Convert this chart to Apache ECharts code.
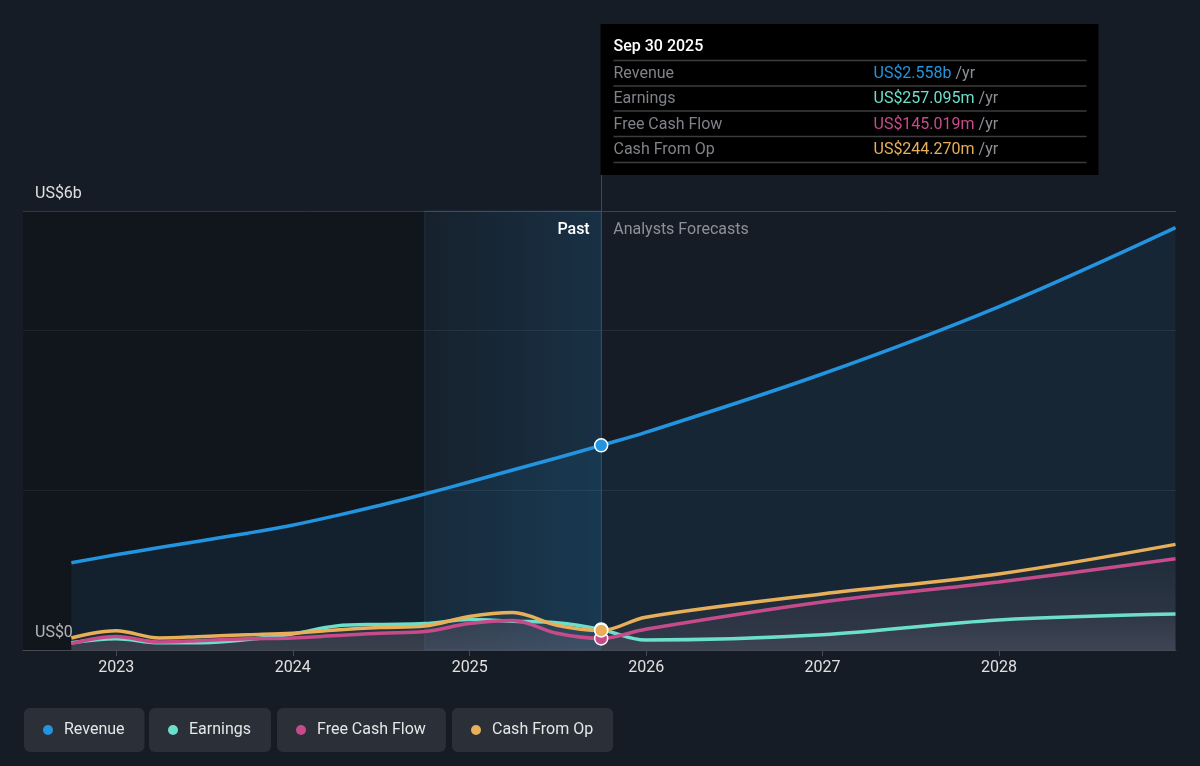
<!DOCTYPE html>
<html>
<head>
<meta charset="utf-8">
<script src="https://cdn.jsdelivr.net/npm/echarts@6/dist/echarts.min.js"></script>
<style>
    html, body { margin: 0; padding: 0; background: #161c25; }
    #chart { width: 1200px; height: 766px; }
</style>
</head>
<body>
<div id="chart"></div>
<script>
// quarterly history up to Sep 2025, then analyst forecasts (US$ billions)
var dates = ['2022-09-30', '2022-12-31', '2023-03-31', '2023-06-30', '2023-09-30', '2023-12-31',
    '2024-03-31', '2024-06-30', '2024-09-30', '2024-12-31', '2025-03-31', '2025-06-30', '2025-09-30',
    '2025-12-31', '2026-12-31', '2027-12-31', '2028-12-31'];
var revenue = [1.09, 1.19, 1.28, 1.37, 1.46, 1.56, 1.68, 1.81, 1.95, 2.10, 2.25, 2.40, 2.558,
    2.72, 3.45, 4.29, 5.28];
var earnings = [0.09, 0.14, 0.09, 0.09, 0.13, 0.20, 0.30, 0.32, 0.33, 0.38, 0.36, 0.34, 0.257,
    0.125, 0.19, 0.375, 0.45];
var freeCashFlow = [0.08, 0.17, 0.10, 0.12, 0.14, 0.15, 0.18, 0.21, 0.23, 0.33, 0.37, 0.21, 0.145,
    0.26, 0.60, 0.85, 1.14];
var cashFromOp = [0.15, 0.24, 0.15, 0.17, 0.19, 0.21, 0.25, 0.28, 0.30, 0.42, 0.47, 0.31, 0.244,
    0.41, 0.70, 0.95, 1.32];

var seriesNames = ['Revenue', 'Earnings', 'Free Cash Flow', 'Cash From Op'];
var seriesColors = ['#2394df', '#6cdfcb', '#c64b8b', '#e8af5a'];
var tooltipDate = 'Sep 30 2025';
var tooltipValues = ['US$2.558b', 'US$257.095m', 'US$145.019m', 'US$244.270m'];

var xMin = '2022-06-22';
var xMax = '2029-01-01';
var yMax = 5.4875;
var pastStart = '2024-09-30';
var nowDate = dates[12];
var nowIndex = 12;

var font = 'Roboto';
var fs = 16;

function pairs(values) {
    var out = [];
    for (var i = 0; i < values.length; i++) {
        out.push([dates[i], values[i]]);
    }
    return out;
}

function dot(values, color) {
    return {
        symbol: 'circle',
        symbolSize: 13,
        silent: true,
        label: { show: false },
        itemStyle: { color: color, borderColor: '#ffffff', borderWidth: 1.5 },
        data: [{ coord: [nowDate, values[nowIndex]] }]
    };
}

function smallArea(r, g, b) {
    return {
        color: new echarts.graphic.LinearGradient(0, 0, 0, 1, [
            { offset: 0, color: 'rgba(' + r + ',' + g + ',' + b + ',0.04)' },
            { offset: 1, color: 'rgba(' + r + ',' + g + ',' + b + ',0.15)' }
        ])
    };
}

var chart = echarts.init(document.getElementById('chart'));

var legends = [];
var legendLeft = [24, 149, 277, 452];
for (var i = 0; i < seriesNames.length; i++) {
    legends.push({
        data: [seriesNames[i]],
        left: legendLeft[i],
        top: 708,
        backgroundColor: '#2a2f38',
        borderRadius: 6,
        padding: [14, 20, 14, 19],
        icon: 'circle',
        itemWidth: 22,
        itemHeight: 10,
        selectedMode: false,
        textStyle: { color: '#e6e6e6', fontSize: fs, fontFamily: font }
    });
}

var option = {
    backgroundColor: '#161c25',
    animation: false,
    color: seriesColors,
    legend: legends,
    grid: { left: 23, right: 24, top: 211, bottom: 116 },
    xAxis: {
        type: 'time',
        min: xMin,
        max: xMax,
        minInterval: 365 * 24 * 3600 * 1000,
        maxInterval: 366 * 24 * 3600 * 1000,
        axisLine: { lineStyle: { color: '#454a52', width: 1 } },
        axisTick: { show: true, length: 6, lineStyle: { color: '#454a52' } },
        axisLabel: {
            color: '#e0e0e0', fontSize: fs, fontFamily: font, margin: 10,
            formatter: '{yyyy}', showMinLabel: false, showMaxLabel: false
        },
        splitLine: { show: false }
    },
    yAxis: {
        type: 'value',
        min: 0,
        max: yMax,
        interval: 2,
        axisLine: { show: false },
        axisTick: { show: false },
        axisLabel: {
            inside: true,
            margin: 12,
            verticalAlign: 'bottom',
            padding: [0, 0, 9, 0],
            color: '#e0e0e0',
            fontSize: fs,
            fontFamily: font,
            showMaxLabel: true,
            formatter: function (v) {
                if (v === 0) return 'US$0';
                if (v > 5) return 'US$6b';
                return '';
            }
        },
        splitLine: { lineStyle: { color: ['#454a52', '#262c35', '#262c35', '#3e434b'], width: 1 } }
    },
    series: [
        {
            name: seriesNames[0],
            type: 'line',
            data: pairs(revenue),
            smooth: 0.35,
            symbol: 'none',
            lineStyle: { width: 3.5, color: seriesColors[0] },
            areaStyle: { color: 'rgba(35,148,223,0.12)' },
            markArea: {
                silent: true,
                data: [
                    [{ xAxis: xMin, itemStyle: { color: 'rgba(0,0,0,0.2)' } }, { xAxis: pastStart }],
                    [{
                        xAxis: pastStart,
                        itemStyle: {
                            color: new echarts.graphic.LinearGradient(0, 0, 1, 0, [
                                { offset: 0, color: 'rgba(35,148,223,0.04)' },
                                { offset: 1, color: 'rgba(35,148,223,0.17)' }
                            ]),
                            borderColor: 'rgba(60,110,150,0.25)',
                            borderWidth: 1
                        },
                        label: {
                            show: true, position: 'insideTopRight', formatter: 'Past',
                            color: '#ffffff', fontSize: fs, fontFamily: font, fontWeight: 500,
                            distance: 0, offset: [-12, 11]
                        }
                    }, { xAxis: nowDate }],
                    [{
                        xAxis: nowDate,
                        itemStyle: { color: 'rgba(0,0,0,0)' },
                        label: {
                            show: true, position: 'insideTopLeft', formatter: 'Analysts Forecasts',
                            color: '#8c9198', fontSize: fs, fontFamily: font,
                            distance: 0, offset: [12, 11]
                        }
                    }, { xAxis: xMax }]
                ]
            },
            markLine: {
                silent: true,
                symbol: 'none',
                label: { show: false },
                lineStyle: { color: '#24506f', type: 'solid', width: 1 },
                data: [{ xAxis: nowDate }]
            },
            markPoint: dot(revenue, seriesColors[0])
        },
        {
            name: seriesNames[1],
            type: 'line',
            data: pairs(earnings),
            smooth: 0.35,
            symbol: 'none',
            lineStyle: { width: 3.5, color: seriesColors[1] },
            areaStyle: smallArea(150, 165, 175),
            markPoint: dot(earnings, seriesColors[1])
        },
        {
            name: seriesNames[2],
            type: 'line',
            data: pairs(freeCashFlow),
            smooth: 0.35,
            symbol: 'none',
            lineStyle: { width: 3.5, color: seriesColors[2] },
            areaStyle: smallArea(170, 110, 145),
            markPoint: dot(freeCashFlow, seriesColors[2])
        },
        {
            name: seriesNames[3],
            type: 'line',
            data: pairs(cashFromOp),
            smooth: 0.35,
            symbol: 'none',
            lineStyle: { width: 3.5, color: seriesColors[3] },
            areaStyle: smallArea(160, 160, 165),
            markPoint: dot(cashFromOp, seriesColors[3])
        }
    ]
};

chart.setOption(option);

// fixed tooltip box above the "now" line
var lx = Math.round(chart.convertToPixel({ xAxisIndex: 0 }, nowDate)) + 0.5;
var gridTop = chart.convertToPixel({ yAxisIndex: 0 }, yMax);
var boxTop = 24, boxW = 498, boxH = 151;
var rowY = [73.5, 98.5, 124.5, 149.5];
var sepY = [60.5, 86, 111, 136.5, 162.5];

var graphics = [];
graphics.push({
    type: 'line', silent: true,
    shape: { x1: lx, y1: boxTop + boxH, x2: lx, y2: gridTop },
    style: { stroke: '#24506f', lineWidth: 1 }
});
graphics.push({
    type: 'rect', silent: true,
    shape: { x: lx - 1, y: boxTop, width: boxW, height: boxH },
    style: { fill: '#000000' }
});
graphics.push({
    type: 'text', silent: true,
    style: { text: tooltipDate, x: lx + 12, y: 47, fill: '#ffffff', fontSize: fs, fontWeight: 500, fontFamily: font, verticalAlign: 'middle' }
});
for (var s = 0; s < sepY.length; s++) {
    graphics.push({
        type: 'line', silent: true,
        shape: { x1: lx + 12, y1: sepY[s], x2: lx + 485, y2: sepY[s] },
        style: { stroke: '#3c3c3c', lineWidth: 1.5 }
    });
}
for (var r = 0; r < seriesNames.length; r++) {
    graphics.push({
        type: 'text', silent: true,
        style: { text: seriesNames[r], x: lx + 12, y: rowY[r], fill: '#7f8288', fontSize: fs, fontFamily: font, verticalAlign: 'middle' }
    });
    graphics.push({
        type: 'text', silent: true,
        style: {
            text: '{v|' + tooltipValues[r] + '} {u|/yr}',
            x: lx + 272, y: rowY[r], verticalAlign: 'middle', fontSize: fs, fontFamily: font,
            rich: {
                v: { fill: seriesColors[r], fontSize: fs, fontFamily: font },
                u: { fill: '#8c9096', fontSize: fs, fontFamily: font }
            }
        }
    });
}
chart.setOption({ graphic: graphics });
</script>
</body>
</html>
